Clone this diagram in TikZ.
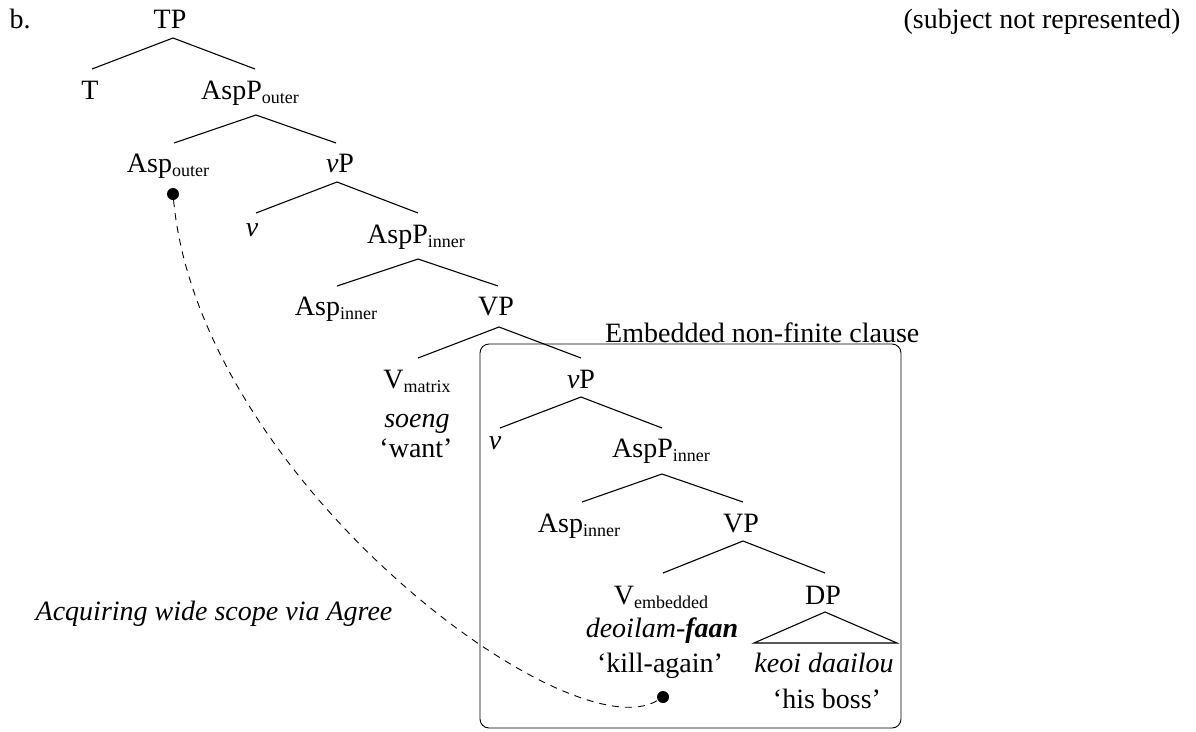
\documentclass[tikz,border=0pt]{standalone}
\usepackage{fontspec}
\setmainfont{Liberation Serif}
\usetikzlibrary{calc}
\newcommand\lsub[1]{\raisebox{-4.5pt}{\fontsize{18}{18}\selectfont #1}}
\newcommand\gnu{\textit{ν}}
\tikzset{
  tn/.style={anchor=base, inner sep=0pt, font=\fontsize{28}{34}\selectfont},
  br/.style={line width=1.1pt},
  dotn/.style={circle, fill=black, inner sep=0pt, minimum size=12pt},
  agree/.style={line width=0.9pt, dash pattern=on 7pt off 6pt},
  clausebox/.style={line width=0.9pt, rounded corners=9pt}
}
\begin{document}
\begin{tikzpicture}[x=1pt,y=-1pt]
\useasboundingbox (0,0) rectangle (1196,731);
% labels outside the tree
\node[tn] (lbl) at (20,28) {b.};
\node[tn] (note) at (1042,28) {(subject not represented)};
\node[tn, anchor=base west] (emb) at (605,342) {Embedded non-finite clause};
\node[tn] (acq) at (214,620) {\textit{Acquiring wide scope via Agree}};
% box
\draw[clausebox] (480,344) rectangle (901,728);
% tree nodes
\node[tn] (TP) at (170,28) {TP};
\node[tn] (T) at (90,99) {T};
\node[tn] (AspPo) at (250,99) {AspP\lsub{outer}};
\node[tn] (Aspo) at (168,172) {Asp\lsub{outer}};
\node[tn] (vP1) at (340,172) {\gnu P};
\node[tn] (v1) at (252,236) {\gnu};
\node[tn] (AspPi1) at (416,243) {AspP\lsub{inner}};
\node[tn] (Aspi1) at (336,315) {Asp\lsub{inner}};
\node[tn] (VP1) at (496,315) {VP};
\node[tn] (Vm) at (417,388) {V\lsub{matrix}};
\node[tn] (soeng) at (417,427) {\textit{soeng}};
\node[tn] (want) at (416,457) {‘want’};
\node[tn] (vP2) at (581,388) {\gnu P};
\node[tn] (v2) at (495,449) {\gnu};
\node[tn] (AspPi2) at (661,457) {AspP\lsub{inner}};
\node[tn] (Aspi2) at (579,532) {Asp\lsub{inner}};
\node[tn] (VP2) at (741,532) {VP};
\node[tn] (Ve) at (661,604) {V\lsub{embedded}};
\node[tn] (deoilam) at (662,637) {\textit{deoilam-\textbf{faan}}};
\node[tn] (kill) at (660,672) {‘kill-again’};
\node[tn] (DP) at (823,604) {DP};
\node[tn] (keoi) at (824,672) {\textit{keoi daailou}};
\node[tn] (boss) at (827,708) {‘his boss’};
% branches
\draw[br] ($(T.base)+(2,-30)$) -- ($(TP.base)+(3,10)$) -- ($(AspPo.base)+(5,-30)$);
\draw[br] ($(Aspo.base)+(6,-29)$) -- ($(AspPo.base)+(6,16)$) -- ($(vP1.base)+(-4,-29)$);
\draw[br] ($(v1.base)+(4,-23)$) -- ($(vP1.base)+(-3,10)$) -- ($(AspPi1.base)+(2,-30)$);
\draw[br] ($(Aspi1.base)+(1,-29)$) -- ($(AspPi1.base)+(2,16)$) -- ($(VP1.base)+(2,-29)$);
\draw[br] ($(Vm.base)+(1,-30)$) -- ($(VP1.base)+(3,12)$) -- ($(vP2.base)+(0,-30)$);
\draw[br] ($(v2.base)+(5,-21)$) -- ($(vP2.base)+(0,9)$) -- ($(AspPi2.base)+(1,-29)$);
\draw[br] ($(Aspi2.base)+(3,-30)$) -- ($(AspPi2.base)+(1,17)$) -- ($(VP2.base)+(2,-30)$);
\draw[br] ($(Ve.base)+(2,-31)$) -- ($(VP2.base)+(2,9)$) -- ($(DP.base)+(2,-31)$);
\draw[br] ($(DP.base)+(2,8)$) -- ($(DP.base)+(-69,39)$) -- ($(DP.base)+(74,39)$) -- cycle;
% agree dots and dashed curve
\node[dotn] (d1) at (173,194) {};
\node[dotn] (d2) at (663,697) {};
\draw[agree] (d1) .. controls (200,480) and (570,755) .. (d2);
\end{tikzpicture}
\end{document}
